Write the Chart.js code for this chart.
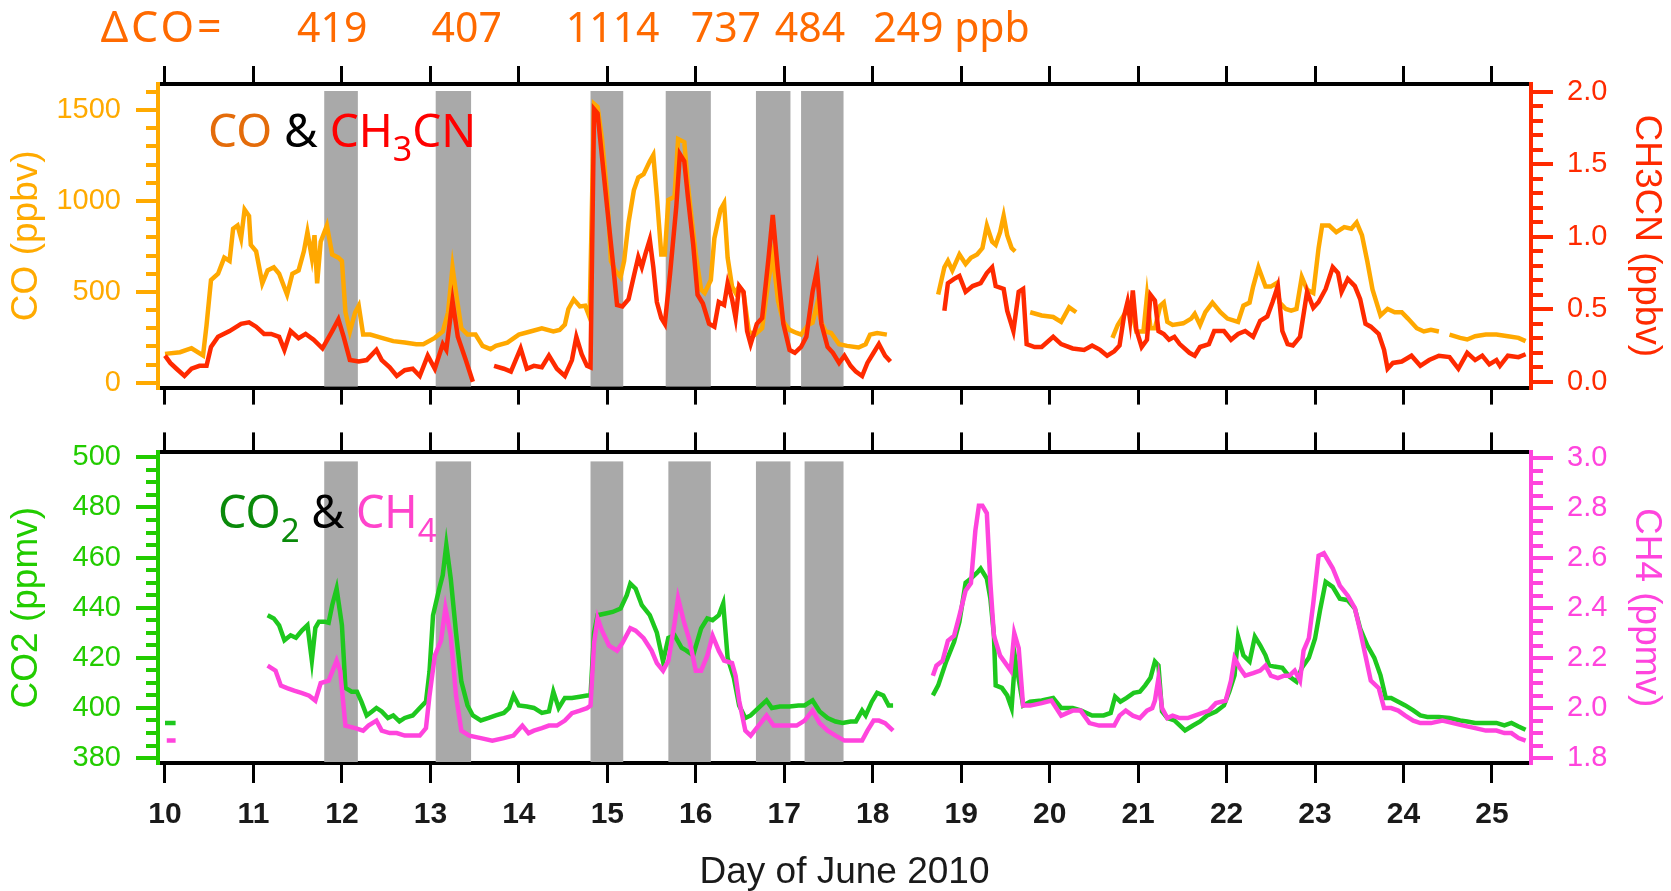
<!DOCTYPE html>
<html>
<head>
<meta charset="utf-8">
<script src="https://cdn.jsdelivr.net/npm/chart.js@4.4.1/dist/chart.umd.min.js"></script>
<style>
  body { margin: 0; background: #fff; }
  #wrap { position: relative; width: 1671px; height: 891px; }
  #topChart { position: absolute; left: 0; top: 0; }
  #bottomChart { position: absolute; left: 0; top: 420px; }
</style>
</head>
<body>
<div id="wrap">
  <canvas id="topChart" width="1671" height="420"></canvas>
  <canvas id="bottomChart" width="1671" height="471"></canvas>
</div>
<script>
// x axis (day of June 2010)
const dayTicks = [10, 11, 12, 13, 14, 15, 16, 17, 18, 19, 20, 21, 22, 23, 24, 25];
const dayMin = 9.921;
const dayMax = 25.441;

// y axis ticks
const coTicks = [0, 500, 1000, 1500];
const ch3cnTicks = [0, 0.5, 1, 1.5, 2];
const co2Ticks = [380, 400, 420, 440, 460, 480, 500];
const ch4Ticks = [1.8, 2.0, 2.2, 2.4, 2.6, 2.8, 3.0];

// shaded plume periods [start day, end day]
const bandsTop = [[11.80, 12.18], [13.06, 13.46], [14.81, 15.18], [15.66, 16.17], [16.68, 17.07], [17.19, 17.67]];
const bandsBottom = [[11.80, 12.18], [13.06, 13.46], [14.81, 15.18], [15.69, 16.17], [16.68, 17.07], [17.23, 17.67]];

// delta CO numbers over the plumes
const deltaCoLabels = ["419", "407", "1114", "737", "484", "249 ppb"];
const deltaCoDays = [11.89, 13.41, 15.06, 16.34, 17.29, 18.89];

// [day, CO ppbv]
const coData = [
  [10.00,159],[10.17,168],[10.30,190],[10.43,150],[10.47,318],[10.52,565],[10.60,600],[10.67,688],[10.73,670],[10.77,847],
  [10.82,865],[10.86,794],[10.90,953],[10.95,918],[10.97,759],[11.03,723],[11.10,547],[11.16,618],[11.23,635],[11.29,600],
  [11.38,485],[11.44,600],[11.51,618],[11.57,723],[11.61,829],[11.66,688],[11.69,812],[11.72,547],[11.76,776],[11.83,865],
  [11.89,706],[11.96,688],[12.00,670],[12.04,388],[12.09,282],[12.15,388],[12.19,424],[12.24,265],[12.32,265],[12.45,247],
  [12.58,229],[12.71,221],[12.84,212],[12.92,212],[13.05,247],[13.14,282],[13.20,388],[13.25,635],[13.29,494],[13.35,300],
  [13.42,265],[13.51,265],[13.59,203],[13.68,185],[13.74,203],[13.87,221],[14.00,265],[14.13,282],[14.26,300],[14.39,282],
  [14.46,290],[14.52,320],[14.56,406],[14.62,459],[14.69,420],[14.75,424],[14.80,360],[14.85,1535],[14.89,1518],[14.94,1341],
  [15.00,1024],[15.04,670],[15.09,618],[15.15,582],[15.19,670],[15.24,882],[15.30,1059],[15.35,1129],[15.41,1147],[15.48,1218],
  [15.52,1253],[15.56,1024],[15.61,706],[15.65,706],[15.69,1006],[15.76,1024],[15.80,1341],[15.87,1324],[15.91,1094],[15.95,918],
  [16.00,706],[16.06,512],[16.10,494],[16.17,565],[16.21,794],[16.28,953],[16.32,988],[16.36,688],[16.41,529],[16.45,494],
  [16.49,529],[16.54,494],[16.60,282],[16.67,265],[16.75,300],[16.82,560],[16.87,700],[16.93,450],[16.99,335],[17.06,291],
  [17.14,274],[17.19,265],[17.27,318],[17.32,330],[17.37,430],[17.42,330],[17.47,282],[17.53,274],[17.62,212],[17.71,203],
  [17.84,194],[17.92,212],[17.97,265],[18.05,274],[18.16,265],
  [18.45,null],
  [18.74,485],[18.81,635],[18.85,670],[18.90,618],[18.98,706],[19.05,653],[19.11,688],[19.18,706],[19.24,741],[19.29,865],
  [19.35,776],[19.39,759],[19.44,829],[19.48,918],[19.52,812],[19.57,741],[19.61,723],
  [19.70,null],
  [19.78,388],[19.91,370],[20.04,362],[20.13,335],[20.22,415],[20.30,388],
  [20.50,null],
  [20.71,247],[20.77,318],[20.86,388],[20.92,420],[20.98,282],[21.06,282],[21.10,476],[21.14,300],[21.19,300],[21.25,424],
  [21.29,441],[21.33,335],[21.39,318],[21.51,327],[21.60,353],[21.64,379],[21.70,318],[21.76,388],[21.84,441],[21.93,388],
  [22.01,353],[22.13,335],[22.19,424],[22.26,441],[22.30,529],[22.36,635],[22.44,529],[22.50,529],[22.56,547],[22.60,441],
  [22.67,406],[22.73,397],[22.79,406],[22.85,582],[22.91,512],[22.98,494],[23.04,741],[23.08,865],[23.16,865],[23.24,829],
  [23.33,856],[23.41,847],[23.47,882],[23.53,812],[23.59,670],[23.65,512],[23.74,370],[23.82,406],[23.90,388],[23.98,388],
  [24.05,353],[24.15,300],[24.23,282],[24.31,291],[24.40,282],
  [24.46,null],
  [24.52,265],[24.64,247],[24.72,238],[24.81,256],[24.93,265],[25.05,265],[25.18,256],[25.30,247],[25.38,229]
];

// [day, CH3CN ppbv]
const ch3cnData = [
  [10.00,0.18],[10.06,0.13],[10.13,0.09],[10.22,0.04],[10.30,0.09],[10.39,0.11],[10.47,0.11],[10.52,0.24],[10.60,0.31],[10.73,0.35],
  [10.86,0.40],[10.95,0.41],[11.03,0.38],[11.12,0.33],[11.20,0.33],[11.29,0.31],[11.35,0.22],[11.42,0.35],[11.51,0.30],[11.59,0.33],
  [11.68,0.29],[11.78,0.23],[11.89,0.35],[11.96,0.43],[12.02,0.31],[12.09,0.15],[12.19,0.14],[12.28,0.15],[12.39,0.22],[12.45,0.15],
  [12.54,0.10],[12.62,0.04],[12.71,0.08],[12.80,0.09],[12.88,0.04],[12.97,0.18],[13.05,0.09],[13.14,0.26],[13.18,0.22],[13.25,0.56],
  [13.31,0.31],[13.40,0.15],[13.48,0.00],
  [13.60,null],
  [13.72,0.11],[13.83,0.09],[13.91,0.07],[14.02,0.23],[14.09,0.09],[14.17,0.11],[14.26,0.10],[14.34,0.18],[14.43,0.09],[14.52,0.04],
  [14.60,0.15],[14.65,0.31],[14.71,0.19],[14.77,0.11],[14.81,0.10],[14.85,1.88],[14.89,1.85],[14.94,1.55],[15.00,1.19],[15.06,0.84],
  [15.11,0.53],[15.17,0.52],[15.24,0.57],[15.30,0.73],[15.35,0.86],[15.39,0.79],[15.43,0.88],[15.48,0.98],[15.52,0.79],[15.56,0.55],
  [15.61,0.44],[15.65,0.40],[15.71,0.75],[15.78,1.21],[15.82,1.57],[15.87,1.52],[15.91,1.28],[15.97,0.95],[16.02,0.60],[16.08,0.54],
  [16.15,0.40],[16.21,0.38],[16.26,0.55],[16.32,0.53],[16.36,0.68],[16.41,0.57],[16.45,0.44],[16.49,0.66],[16.54,0.62],[16.58,0.35],
  [16.62,0.26],[16.69,0.40],[16.75,0.44],[16.82,0.84],[16.87,1.15],[16.93,0.75],[16.99,0.40],[17.06,0.22],[17.12,0.20],[17.19,0.24],
  [17.25,0.31],[17.32,0.62],[17.37,0.77],[17.42,0.40],[17.49,0.24],[17.55,0.20],[17.62,0.13],[17.68,0.18],[17.75,0.11],[17.81,0.07],
  [17.88,0.04],[17.94,0.13],[18.01,0.20],[18.07,0.26],[18.14,0.18],[18.20,0.14],
  [18.50,null],
  [18.81,0.49],[18.85,0.68],[18.92,0.71],[18.98,0.73],[19.05,0.62],[19.13,0.66],[19.22,0.68],[19.29,0.75],[19.35,0.79],[19.39,0.66],
  [19.48,0.64],[19.52,0.49],[19.59,0.35],[19.65,0.62],[19.70,0.64],[19.74,0.26],[19.83,0.24],[19.91,0.24],[20.04,0.31],[20.13,0.26],
  [20.26,0.23],[20.39,0.22],[20.48,0.25],[20.57,0.22],[20.65,0.18],[20.73,0.21],[20.79,0.25],[20.84,0.45],[20.88,0.55],[20.91,0.42],
  [20.94,0.63],[20.98,0.36],[21.04,0.24],[21.10,0.29],[21.14,0.60],[21.19,0.56],[21.23,0.35],[21.29,0.33],[21.35,0.29],[21.41,0.31],
  [21.47,0.26],[21.58,0.20],[21.64,0.18],[21.70,0.24],[21.80,0.26],[21.86,0.35],[21.97,0.35],[22.05,0.29],[22.13,0.33],[22.21,0.35],
  [22.30,0.31],[22.38,0.42],[22.46,0.45],[22.52,0.55],[22.58,0.66],[22.63,0.35],[22.69,0.26],[22.75,0.25],[22.83,0.31],[22.91,0.62],
  [22.98,0.51],[23.04,0.55],[23.12,0.64],[23.20,0.79],[23.26,0.75],[23.30,0.62],[23.37,0.71],[23.45,0.66],[23.51,0.57],[23.57,0.40],
  [23.63,0.38],[23.72,0.33],[23.78,0.22],[23.82,0.09],[23.88,0.13],[23.98,0.14],[24.09,0.18],[24.19,0.11],[24.29,0.15],[24.40,0.18],
  [24.52,0.17],[24.62,0.09],[24.72,0.20],[24.81,0.15],[24.89,0.18],[24.97,0.12],[25.05,0.15],[25.09,0.11],[25.18,0.18],[25.30,0.17],
  [25.38,0.19]
];

// [day, CO2 ppmv]
const co2Data = [
  [10.00,394],[10.12,394],
  [10.50,null],
  [11.16,437],[11.23,435.7],[11.29,433],[11.35,427],[11.42,429],[11.48,428],[11.55,431],[11.61,433],[11.66,419],[11.70,432],
  [11.74,434.4],[11.81,434.4],[11.85,434],[11.89,441],[11.94,447.6],[12.00,433],[12.04,408],[12.11,406.5],[12.17,406.5],[12.22,402.5],
  [12.28,397],[12.34,398.6],[12.39,400],[12.45,398.6],[12.52,396],[12.58,397],[12.65,394.6],[12.71,396],[12.80,397],[12.88,400],
  [12.95,402.5],[12.99,414.5],[13.03,437],[13.10,447.6],[13.14,453],[13.18,465],[13.23,451.6],[13.29,430],[13.35,410.5],[13.42,401],
  [13.48,397],[13.57,395],[13.66,396],[13.74,397],[13.83,398],[13.89,400],[13.94,405],[14.00,401],[14.09,400.6],[14.17,400],
  [14.26,398],[14.34,398.6],[14.39,406.5],[14.45,400],[14.52,404],[14.60,404],[14.69,404.5],[14.77,405],[14.81,405],[14.85,430],
  [14.89,437],[14.98,437.7],[15.06,438.3],[15.15,439.7],[15.22,445],[15.26,449.6],[15.32,447.6],[15.39,441],[15.48,437],[15.56,430],
  [15.63,418.5],[15.69,428],[15.76,429],[15.84,424],[15.89,423],[15.97,421],[16.06,431.7],[16.13,435.7],[16.19,435],[16.26,437],
  [16.31,441.7],[16.36,420],[16.43,412],[16.49,401],[16.56,396],[16.62,397],[16.71,400],[16.80,403],[16.86,400],[16.95,400.6],
  [17.06,400.6],[17.16,401],[17.23,401],[17.32,403],[17.40,398.6],[17.49,396],[17.58,394.6],[17.66,394],[17.75,394.6],[17.81,394.6],
  [17.88,399],[17.92,397],[17.99,402.5],[18.05,406],[18.12,405],[18.18,401],[18.23,401],
  [18.45,null],
  [18.68,405],[18.74,409],[18.83,418.5],[18.92,426.4],[18.98,434.4],[19.05,450],[19.11,451.6],[19.18,454],[19.22,455.6],[19.29,451.6],
  [19.33,443.6],[19.37,429],[19.39,409],[19.46,408],[19.52,405],[19.57,400],[19.61,420],[19.70,401],[19.78,402.5],[19.91,403],
  [20.04,404],[20.13,400],[20.26,400],[20.35,399],[20.48,397],[20.61,397],[20.69,398],[20.74,404.5],[20.80,402.5],[20.87,404],
  [20.95,406],[21.02,406.5],[21.08,409],[21.14,412],[21.19,418.5],[21.23,417],[21.27,398.6],[21.33,396],[21.41,395],[21.47,393],
  [21.53,391],[21.62,393],[21.70,394.6],[21.78,397],[21.88,398.6],[21.97,401],[22.03,406.5],[22.09,413],[22.13,428.4],[22.19,421],
  [22.26,418.5],[22.32,428.4],[22.38,425],[22.44,421],[22.48,417],[22.54,416.5],[22.63,416],[22.71,412.5],[22.79,410.5],[22.85,416],
  [22.93,420],[23.00,427.7],[23.06,439.7],[23.12,450.3],[23.20,448.3],[23.28,443.6],[23.37,443],[23.45,439.7],[23.51,431.7],[23.59,425],
  [23.67,420],[23.74,413],[23.80,404],[23.86,404],[23.94,402.5],[24.02,401],[24.11,399],[24.19,397],[24.27,396.4],[24.40,396.4],
  [24.52,396],[24.64,395],[24.72,394.6],[24.81,394],[24.93,394],[25.05,394],[25.14,393],[25.22,394],[25.30,392.6],[25.38,391.3]
];

// [day, CH4 ppmv]
const ch4Data = [
  [10.02,1.87],[10.12,1.87],
  [10.50,null],
  [11.16,2.17],[11.25,2.15],[11.31,2.09],[11.38,2.08],[11.46,2.07],[11.55,2.06],[11.63,2.05],[11.70,2.03],[11.76,2.10],[11.85,2.11],
  [11.94,2.19],[11.98,2.15],[12.04,1.93],[12.15,1.92],[12.24,1.91],[12.30,1.93],[12.39,1.95],[12.45,1.91],[12.54,1.90],[12.62,1.90],
  [12.71,1.89],[12.80,1.89],[12.88,1.89],[12.95,1.92],[12.99,2.05],[13.05,2.21],[13.12,2.27],[13.17,2.40],[13.23,2.29],[13.29,2.05],
  [13.35,1.91],[13.44,1.89],[13.57,1.88],[13.70,1.87],[13.83,1.88],[13.94,1.89],[14.04,1.93],[14.11,1.90],[14.17,1.91],[14.26,1.92],
  [14.34,1.93],[14.43,1.93],[14.52,1.95],[14.60,1.98],[14.69,1.99],[14.77,2.00],[14.81,2.01],[14.85,2.26],[14.89,2.36],[14.94,2.31],
  [15.02,2.25],[15.11,2.23],[15.17,2.26],[15.26,2.32],[15.32,2.31],[15.41,2.28],[15.50,2.23],[15.56,2.18],[15.63,2.15],[15.69,2.19],
  [15.76,2.34],[15.80,2.44],[15.87,2.34],[15.93,2.27],[16.00,2.15],[16.06,2.15],[16.13,2.21],[16.19,2.29],[16.26,2.23],[16.32,2.19],
  [16.41,2.18],[16.45,2.13],[16.49,2.03],[16.56,1.91],[16.62,1.89],[16.71,1.93],[16.80,1.97],[16.88,1.93],[16.97,1.93],[17.06,1.93],
  [17.14,1.93],[17.23,1.95],[17.32,1.99],[17.40,1.94],[17.49,1.91],[17.58,1.89],[17.68,1.87],[17.79,1.87],[17.88,1.87],[17.94,1.91],
  [18.01,1.95],[18.07,1.95],[18.14,1.94],[18.23,1.91],
  [18.45,null],
  [18.68,2.13],[18.72,2.17],[18.79,2.19],[18.85,2.27],[18.92,2.29],[18.98,2.37],[19.05,2.47],[19.11,2.50],[19.16,2.71],[19.20,2.81],
  [19.24,2.81],[19.29,2.78],[19.33,2.50],[19.37,2.29],[19.44,2.21],[19.50,2.18],[19.56,2.15],[19.60,2.30],[19.65,2.24],[19.70,2.01],
  [19.78,2.01],[19.91,2.02],[20.02,2.03],[20.13,1.97],[20.26,1.99],[20.35,1.99],[20.45,1.94],[20.56,1.93],[20.65,1.93],[20.73,1.93],
  [20.79,1.97],[20.86,1.99],[20.94,1.97],[21.02,1.96],[21.10,1.99],[21.16,2.00],[21.19,2.03],[21.23,2.12],[21.27,2.00],[21.33,1.96],
  [21.39,1.97],[21.47,1.96],[21.56,1.96],[21.64,1.97],[21.72,1.98],[21.80,1.99],[21.88,2.02],[21.99,2.03],[22.05,2.11],[22.09,2.20],
  [22.15,2.16],[22.21,2.13],[22.30,2.14],[22.38,2.15],[22.44,2.17],[22.50,2.13],[22.58,2.12],[22.65,2.13],[22.71,2.13],[22.77,2.15],
  [22.83,2.11],[22.87,2.23],[22.93,2.28],[22.98,2.42],[23.04,2.61],[23.10,2.62],[23.20,2.56],[23.28,2.49],[23.37,2.45],[23.45,2.40],
  [23.51,2.31],[23.57,2.21],[23.63,2.11],[23.72,2.08],[23.78,2.00],[23.86,2.00],[23.94,1.99],[24.02,1.97],[24.11,1.95],[24.19,1.94],
  [24.31,1.94],[24.44,1.95],[24.56,1.94],[24.68,1.93],[24.81,1.92],[24.93,1.91],[25.05,1.91],[25.14,1.90],[25.22,1.90],[25.30,1.88],
  [25.38,1.87]
];

const ORANGE = "#ffaa00";
const RED = "#ff2a00";
const GREEN = "#22cc00";
const MAGENTA = "#ff44dd";
const sansFont = "'Liberation Sans', Arial, sans-serif";
const textFont = "'Noto Sans', 'Open Sans', sans-serif";

function toPoints(pairs) {
  return pairs.map((p) => ({ x: p[0], y: p[1] }));
}

function fixTicks(list) {
  return function (scale) {
    scale.ticks = list.map((v) => ({ value: v }));
  };
}

// grey plume bands, drawn behind the lines
const bandPlugin = {
  id: "bands",
  beforeDatasetsDraw(chart, args, opts) {
    let ctx = chart.ctx;
    let area = chart.chartArea;
    let x = chart.scales.x;
    ctx.save();
    ctx.fillStyle = "#a9a9a9";
    opts.list.forEach((b) => {
      let x1 = x.getPixelForValue(b[0]);
      let x2 = x.getPixelForValue(b[1]);
      ctx.fillRect(x1, area.top + opts.inset, x2 - x1, area.bottom - area.top - opts.inset - 1);
    });
    ctx.restore();
  },
};

// short ticks between the labelled ones
const minorTickPlugin = {
  id: "minorTicks",
  afterDraw(chart, args, opts) {
    let ctx = chart.ctx;
    ctx.save();
    ctx.lineWidth = 4;
    opts.axes.forEach((a) => {
      let s = chart.scales[a.id];
      ctx.strokeStyle = a.color;
      let k0 = Math.ceil(s.min / a.step - 1e-6);
      for (let k = k0; k * a.step <= s.max + 1e-9; k++) {
        let y = Math.round(s.getPixelForValue(k * a.step));
        ctx.beginPath();
        if (s.position === "left") {
          ctx.moveTo(s.right - 12, y);
          ctx.lineTo(s.right, y);
        } else {
          ctx.moveTo(s.left, y);
          ctx.lineTo(s.left + 12, y);
        }
        ctx.stroke();
      }
    });
    ctx.restore();
  },
};

// coloured panel label and the delta CO row
const textPlugin = {
  id: "panelText",
  afterDraw(chart, args, opts) {
    let ctx = chart.ctx;
    let area = chart.chartArea;
    ctx.save();
    ctx.textBaseline = "alphabetic";
    ctx.textAlign = "left";
    let x = area.left + opts.dx;
    let y = area.top + opts.dy;
    opts.runs.forEach((r) => {
      ctx.font = (r.sub ? opts.subSize : opts.size) + "px " + textFont;
      ctx.fillStyle = r.color;
      ctx.fillText(r.text, x, r.sub ? y + 14 : y);
      x += ctx.measureText(r.text).width;
    });
    if (opts.header) {
      let xs = chart.scales.x;
      ctx.fillStyle = "#ff6a00";
      ctx.font = "43px " + textFont;
      ctx.textAlign = "right";
      ctx.letterSpacing = "3px";
      ctx.fillText("\u0394CO=", xs.getPixelForValue(10.64) + 3, 42);
      ctx.letterSpacing = "0px";
      ctx.font = "41px " + textFont;
      ctx.textAlign = "center";
      deltaCoLabels.forEach((t, i) => {
        ctx.fillText(t, xs.getPixelForValue(deltaCoDays[i]), 42);
      });
    }
    ctx.restore();
  },
};

function xAxis(position, height, tickLen, showLabels) {
  return {
    type: "linear",
    position: position,
    min: dayMin,
    max: dayMax,
    bounds: "data",
    afterBuildTicks: fixTicks(dayTicks),
    afterFit: (s) => { s.height = height; },
    grid: { drawOnChartArea: false, drawTicks: true, tickLength: tickLen, tickWidth: 3, tickColor: "#000", color: "#000", lineWidth: 3 },
    border: { display: true, color: "#000", width: 4 },
    ticks: {
      display: showLabels,
      autoSkip: false,
      maxRotation: 0,
      padding: 14,
      color: "#1a1a1a",
      font: { family: sansFont, size: 30, weight: "bold" },
    },
  };
}

function yAxis(position, min, max, list, color, title, digits) {
  return {
    type: "linear",
    position: position,
    min: min,
    max: max,
    bounds: "data",
    afterBuildTicks: fixTicks(list),
    afterFit: (s) => { s.width = position === "left" ? 158 : 140; },
    grid: { drawOnChartArea: false, tickLength: 22, tickWidth: 4, tickColor: color, color: color, lineWidth: 4 },
    border: { display: true, color: color, width: 4 },
    ticks: {
      color: color,
      padding: position === "left" ? 15 : 14,
      font: { family: sansFont, size: 29 },
      callback: (v) => v.toFixed(digits),
    },
    title: {
      display: true,
      text: title,
      color: color,
      font: { family: sansFont, size: 37, lineHeight: 1 },
      padding: { top: position === "left" ? 8 : 6, bottom: 0 },
    },
  };
}

function lineSet(pairs, color, axisId) {
  return {
    data: toPoints(pairs),
    xAxisID: "x",
    yAxisID: axisId,
    borderColor: color,
    borderWidth: 4.5,
    pointRadius: 0,
    tension: 0,
    spanGaps: false,
  };
}

const commonOptions = {
  responsive: false,
  animation: false,
  layout: { padding: 0 },
};

let topCtx = document.getElementById("topChart").getContext("2d");
let topChart = new Chart(topCtx, {
  type: "line",
  data: {
    datasets: [lineSet(ch3cnData, RED, "yCH3CN"), lineSet(coData, "#ffa800", "yCO")],
  },
  options: {
    ...commonOptions,
    scales: {
      x: xAxis("bottom", 22, 17, false),
      xTop: xAxis("top", 84, 18, false),
      yCO: yAxis("left", -26.6, 1643.6, coTicks, ORANGE, "CO (ppbv)", 0),
      yCH3CN: yAxis("right", -0.04, 2.0533, ch3cnTicks, RED, "CH3CN (ppbv)", 1),
    },
    plugins: {
      legend: { display: false },
      tooltip: { enabled: false },
      bands: { list: bandsTop, inset: 7 },
      minorTicks: { axes: [{ id: "yCO", step: 100, color: ORANGE }, { id: "yCH3CN", step: 0.1, color: RED }] },
      panelText: {
        dx: 50,
        dy: 63,
        size: 46,
        subSize: 34,
        header: true,
        runs: [
          { text: "CO", color: "#e46c0a" },
          { text: " & ", color: "#000" },
          { text: "CH", color: "#ff0000" },
          { text: "3", color: "#ff0000", sub: true },
          { text: "CN", color: "#ff0000" },
        ],
      },
    },
  },
  plugins: [bandPlugin, minorTickPlugin, textPlugin],
});

let bottomX = xAxis("bottom", 128, 20, true);
bottomX.title = {
  display: true,
  text: "Day of June 2010",
  color: "#1a1a1a",
  font: { family: sansFont, size: 37, lineHeight: 1 },
  padding: { top: 0, bottom: 0 },
};

let bottomCtx = document.getElementById("bottomChart").getContext("2d");
let bottomChart = new Chart(bottomCtx, {
  type: "line",
  data: {
    datasets: [lineSet(ch4Data, MAGENTA, "yCH4"), lineSet(co2Data, "#1ec81e", "yCO2")],
  },
  options: {
    ...commonOptions,
    scales: {
      x: bottomX,
      xTop: xAxis("top", 28, 20, false),
      yCO2: yAxis("left", 378.03, 501.97, co2Ticks, GREEN, "CO2 (ppmv)", 0),
      yCH4: yAxis("right", 1.7803, 3.0237, ch4Ticks, MAGENTA, "CH4 (ppmv)", 1),
    },
    plugins: {
      legend: { display: false },
      tooltip: { enabled: false },
      bands: { list: bandsBottom, inset: 9 },
      minorTicks: { axes: [{ id: "yCO2", step: 5, color: GREEN }, { id: "yCH4", step: 0.05, color: MAGENTA }] },
      panelText: {
        dx: 60,
        dy: 76,
        size: 45,
        subSize: 33,
        header: false,
        runs: [
          { text: "CO", color: "#0a8a0a" },
          { text: "2", color: "#0a8a0a", sub: true },
          { text: " & ", color: "#000" },
          { text: "CH", color: "#ff44cc" },
          { text: "4", color: "#ff44cc", sub: true },
        ],
      },
    },
  },
  plugins: [bandPlugin, minorTickPlugin, textPlugin],
});
</script>
</body>
</html>
